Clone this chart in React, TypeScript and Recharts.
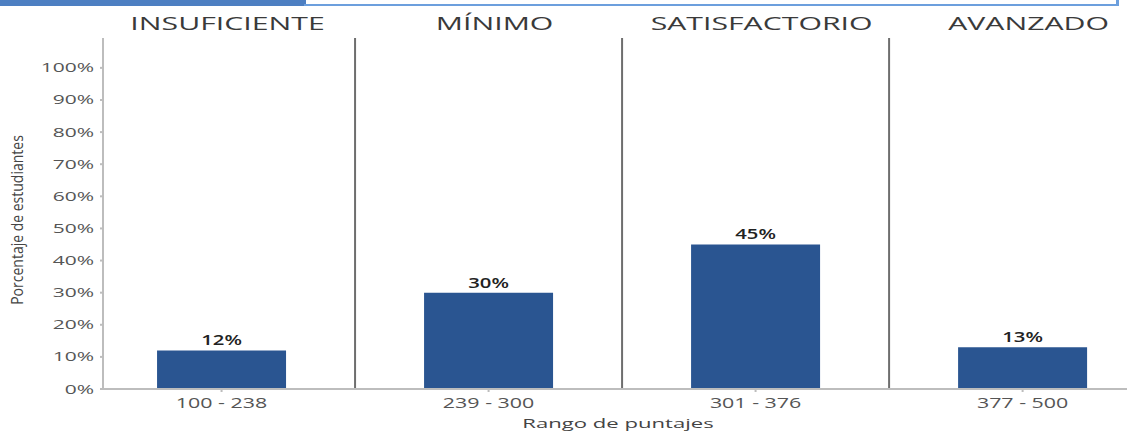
import { BarChart, Bar, XAxis, YAxis, ReferenceLine, LabelList, Label } from 'recharts';

const levels = ['INSUFICIENTE', 'MÍNIMO', 'SATISFACTORIO', 'AVANZADO'];
const ranges = ['100 - 238', '239 - 300', '301 - 376', '377 - 500'];
const percents = [12, 30, 45, 13];
const yTicks = [0, 10, 20, 30, 40, 50, 60, 70, 80, 90, 100];
const separators = [0.5, 1.5, 2.5];

const data = percents.map((p, i) => ({ x: i, value: p }));

const FONT = '"Open Sans", sans-serif';

// the source image is stretched sideways, so text is widened with scaleX
function Wide(props: any) {
  const { x, y, sx, anchor, dy, size, weight, fill, rotate = 0, children } = props;
  return (
    <text
      transform={`translate(${x},${y}) scale(${sx},1) rotate(${rotate})`}
      textAnchor={anchor}
      dy={dy}
      fontSize={size}
      fontWeight={weight}
      fill={fill}
      fontFamily={FONT}
    >
      {children}
    </text>
  );
}

export default function App() {
  return (
    <div style={{ position: 'absolute', left: 0, top: 0, width: 1127, height: 432, overflow: 'hidden', background: '#fff' }}>
      <div style={{ position: 'absolute', left: 0, top: 0, width: 306, height: 6, background: '#4d7fc2' }} />
      <div
        style={{
          position: 'absolute',
          left: 304,
          top: -10,
          width: 812,
          height: 14,
          borderBottom: '2px solid #6c9fdd',
          borderRight: '3px solid #6c9fdd',
        }}
      />
      <BarChart width={1127} height={432} data={data} margin={{ top: 0, right: 0, bottom: 3, left: 0 }}>
        <XAxis
          xAxisId="top"
          orientation="top"
          dataKey="x"
          type="number"
          domain={[-0.444, 3.391]}
          allowDataOverflow
          ticks={[0, 1, 2, 3]}
          axisLine={false}
          tickLine={false}
          height={38}
          tick={(p: any) => (
            <Wide x={p.x + 6} y={30} sx={1.68} anchor="middle" size={18} fill="#3a3a3a">
              {levels[p.payload.value]}
            </Wide>
          )}
        />
        <XAxis
          dataKey="x"
          type="number"
          domain={[-0.444, 3.391]}
          allowDataOverflow
          ticks={[0, 1, 2, 3]}
          stroke="#bdbdbd"
          strokeWidth={2}
          tickSize={3}
          height={40}
          tick={(p: any) => (
            <Wide x={p.x} y={408} sx={1.53} anchor="middle" size={14} fill="#555">
              {ranges[p.payload.value]}
            </Wide>
          )}
        >
          <Label
            content={() => (
              <Wide x={618} y={428} sx={1.7} anchor="middle" size={13} fill="#444">
                Rango de puntajes
              </Wide>
            )}
          />
        </XAxis>
        <YAxis
          type="number"
          domain={[0, 109.3]}
          ticks={yTicks}
          width={103}
          stroke="#bdbdbd"
          strokeWidth={2}
          tickSize={3}
          tickMargin={5}
          tick={(p: any) => (
            <Wide x={94} y={p.y} dy="0.36em" sx={1.68} anchor="end" size={12.5} fill="#555">
              {`${p.payload.value}%`}
            </Wide>
          )}
          label={{
            content: () => (
              <Wide x={23} y={220} sx={1.22} rotate={-90} anchor="middle" size={14} fill="#444">
                Porcentaje de estudiantes
              </Wide>
            ),
          }}
        />
        {separators.map((s) => (
          <ReferenceLine key={s} x={s} stroke="#6e6e6e" strokeWidth={2} />
        ))}
        <Bar dataKey="value" fill="#2a5591" barSize={129} isAnimationActive={false}>
          <LabelList
            dataKey="value"
            content={(p: any) => (
              <Wide x={p.x + p.width / 2} y={p.y - 5} sx={1.45} anchor="middle" size={14} weight={600} fill="#222">
                {`${p.value}%`}
              </Wide>
            )}
          />
        </Bar>
      </BarChart>
    </div>
  );
}
